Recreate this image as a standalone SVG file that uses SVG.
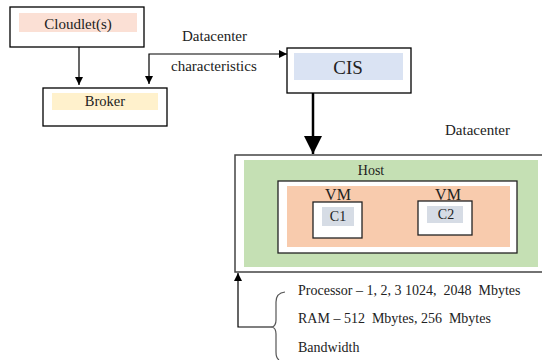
<svg xmlns="http://www.w3.org/2000/svg" width="542" height="360" viewBox="0 0 542 360">
<defs>
<style>
text{font-family:'Liberation Serif','DejaVu Serif',serif;font-size:15px;fill:#222;}
.sm{font-size:14px;}
.box{fill:#fff;stroke:#000;stroke-width:1.3;}
.ln{fill:none;stroke:#000;stroke-width:1.2;}
</style>
<marker id="ah" viewBox="0 0 10 10" refX="10" refY="5" markerWidth="8" markerHeight="8" markerUnits="userSpaceOnUse" orient="auto-start-reverse"><path d="M0,0L10,5L0,10z" fill="#000"/></marker>
<marker id="big" viewBox="0 0 10 10" refX="10" refY="5" markerWidth="18" markerHeight="20" markerUnits="userSpaceOnUse" orient="auto"><path d="M0,0L10,5L0,10z" fill="#000"/></marker>
</defs>
<rect width="542" height="360" fill="#fff"/>
<g font-family="Liberation Serif, DejaVu Serif, serif">
<g id="cloudlets">
<rect class="box" x="10" y="7" width="134" height="40"/>
<rect x="19" y="13" width="118" height="19" fill="#fbe0d5"/>
<text x="78" y="29" text-anchor="middle">Cloudlet(s)</text>
</g>

<g id="broker">
<rect class="box" x="43" y="88" width="124" height="38"/>
<rect x="52" y="93" width="106" height="17" fill="#fff1cc"/>
<text x="105" y="106" text-anchor="middle" style="font-size:14.5px">Broker</text>
</g>

<g id="cis">
<rect class="box" x="287" y="48" width="124" height="45"/>
<rect x="294" y="53" width="109" height="27" fill="#dae3f3"/>
<text x="348" y="74" text-anchor="middle" style="font-size:19px">CIS</text>
</g>

<g id="datacenter">
<text x="445" y="135">Datacenter</text>
<path d="M542,155H235V272H542" fill="#fff" stroke="#444" stroke-width="1.5"/>
<rect x="244" y="160" width="294" height="107" fill="#c5e0b4"/>
</g>

<g id="host">
<text x="371" y="175" text-anchor="middle" class="sm">Host</text>
<rect x="278" y="181" width="239" height="72" fill="#fff" stroke="#222" stroke-width="1.3"/>
<rect x="287" y="186" width="223" height="61" fill="#f8cbad"/>
</g>

<g id="vm1">
<text x="338" y="200" text-anchor="middle" style="font-size:16px">VM</text>
<rect x="313" y="202" width="49" height="36" fill="#fff" stroke="#222" stroke-width="1.3"/>
<rect x="322" y="207" width="32" height="19" fill="#d6dce5"/>
<text x="338" y="221" text-anchor="middle" class="sm">C1</text>
</g>

<g id="vm2">
<text x="448" y="200" text-anchor="middle" style="font-size:16px">VM</text>
<rect x="418" y="201" width="54" height="34" fill="#fff" stroke="#222" stroke-width="1.3"/>
<rect x="427" y="206" width="36" height="17" fill="#d6dce5"/>
<text x="446" y="219" text-anchor="middle" class="sm">C2</text>
</g>

<g id="specs">
<text x="298" y="295" class="sm" xml:space="preserve">Processor – 1, 2, 3 1024,  2048  Mbytes</text>
<text x="298" y="323" class="sm" xml:space="preserve">RAM – 512  Mbytes, 256  Mbytes</text>
<text x="298" y="352" class="sm">Bandwidth</text>
<path d="M285,292Q276,293 276,302V320Q276,326 272,327Q276,328 276,334V352Q276,358 279,360" fill="none" stroke="#555" stroke-width="1.2"/>
</g>

<g id="connectors">
<line class="ln" x1="79" y1="47" x2="79" y2="85" marker-end="url(#ah)"/>
<polyline class="ln" points="149,84 149,54 287,54" marker-start="url(#ah)" marker-end="url(#ah)"/>
<text x="182" y="41">Datacenter</text>
<text x="171" y="71">characteristics</text>
<line x1="313" y1="93" x2="313" y2="154" stroke="#000" stroke-width="2.5" marker-end="url(#big)"/>
<polyline class="ln" points="272,327 238,327 238,273" marker-end="url(#ah)"/>
</g>
</g>
</svg>
